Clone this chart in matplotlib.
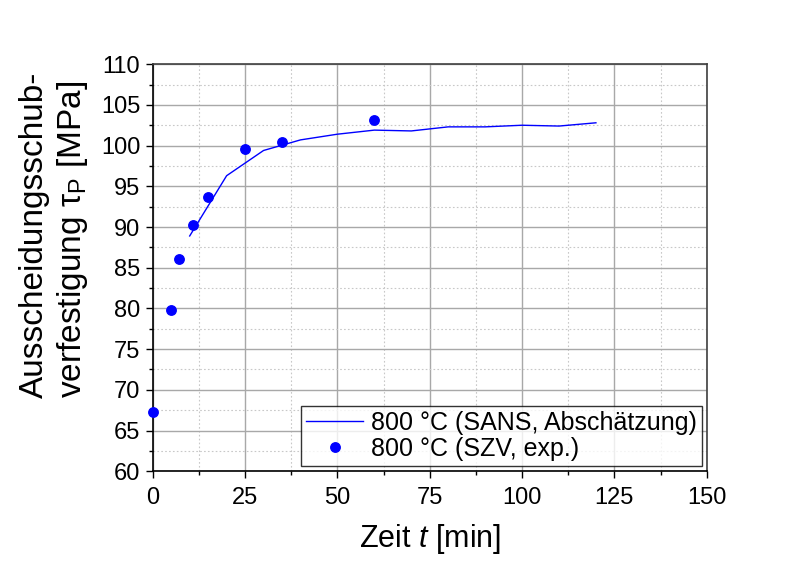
import numpy as np
import matplotlib
matplotlib.use("Agg")
import matplotlib.pyplot as plt
from matplotlib.ticker import MultipleLocator

plt.rcParams["font.family"] = ["Liberation Sans", "DejaVu Sans"]
plt.rcParams["mathtext.fontset"] = "custom"
plt.rcParams["mathtext.rm"] = "Liberation Sans"
plt.rcParams["mathtext.it"] = "Liberation Sans:italic"

# SANS-Abschaetzung (Linie)
t_sans = [10, 20, 30, 40, 50, 60, 70, 80, 90, 100, 110, 120]
tau_sans = [88.9, 96.3, 99.4, 100.7, 101.4, 101.9, 101.8, 102.3, 102.3, 102.5, 102.4, 102.8]
# SZV Experiment (Punkte)
t_exp = [0, 5, 7, 11, 15, 25, 35, 60]
tau_exp = [67.3, 79.8, 86.1, 90.2, 93.7, 99.6, 100.4, 103.2]

fig = plt.figure(figsize=(8.04, 5.63), dpi=100)
ax = fig.add_axes([0.190, 0.163, 0.689, 0.723])

ax.plot(t_sans, tau_sans, color="#0000ff", lw=1.0, label="800 °C (SANS, Abschätzung)", zorder=3)
ax.plot(t_exp, tau_exp, "o", color="#0000ff", ms=6.8, label="800 °C (SZV, exp.)",
        clip_on=False, zorder=4)

ax.set_xlim(0, 150)
ax.set_ylim(60, 110)
ax.xaxis.set_major_locator(MultipleLocator(25))
ax.xaxis.set_minor_locator(MultipleLocator(12.5))
ax.yaxis.set_major_locator(MultipleLocator(5))
ax.yaxis.set_minor_locator(MultipleLocator(2.5))

# Gitter
ax.grid(which="major", color="#a8a8a8", lw=1.0, ls="-")
ax.grid(which="minor", color="#c8c8c8", lw=0.8, ls=(0, (1.5, 2)))
ax.set_axisbelow(True)

ax.tick_params(which="major", direction="out", length=5, width=1, labelsize=17)
ax.tick_params(axis="x", which="major", pad=6)
ax.tick_params(axis="y", which="major", pad=4)
ax.tick_params(which="minor", direction="out", length=3, width=1)
ax.tick_params(top=False, right=False, which="both")

for s in ["left", "bottom"]:
    ax.spines[s].set_color("black")
    ax.spines[s].set_linewidth(1.2)
for s in ["top", "right"]:
    ax.spines[s].set_color("#404040")
    ax.spines[s].set_linewidth(1.2)

ax.set_xlabel(r"Zeit $\it{t}$ [min]", fontsize=22, labelpad=10)
fig.text(0.068, 0.293, "Ausscheidungsschub-\nverfestigung $\\mathregular{\\tau_P}$ [MPa]",
         rotation=90, ha="center", va="bottom", multialignment="left",
         fontsize=24, linespacing=1.2)

leg = ax.legend(loc="lower right", fontsize=18, frameon=True, fancybox=False,
                edgecolor="black", handlelength=2.3, borderpad=0.2,
                labelspacing=0.1, handletextpad=0.3, borderaxespad=0.2,
                bbox_to_anchor=(1.0, 0.0))
leg.get_frame().set_linewidth(1.0)

fig.savefig("out.png", dpi=100)
